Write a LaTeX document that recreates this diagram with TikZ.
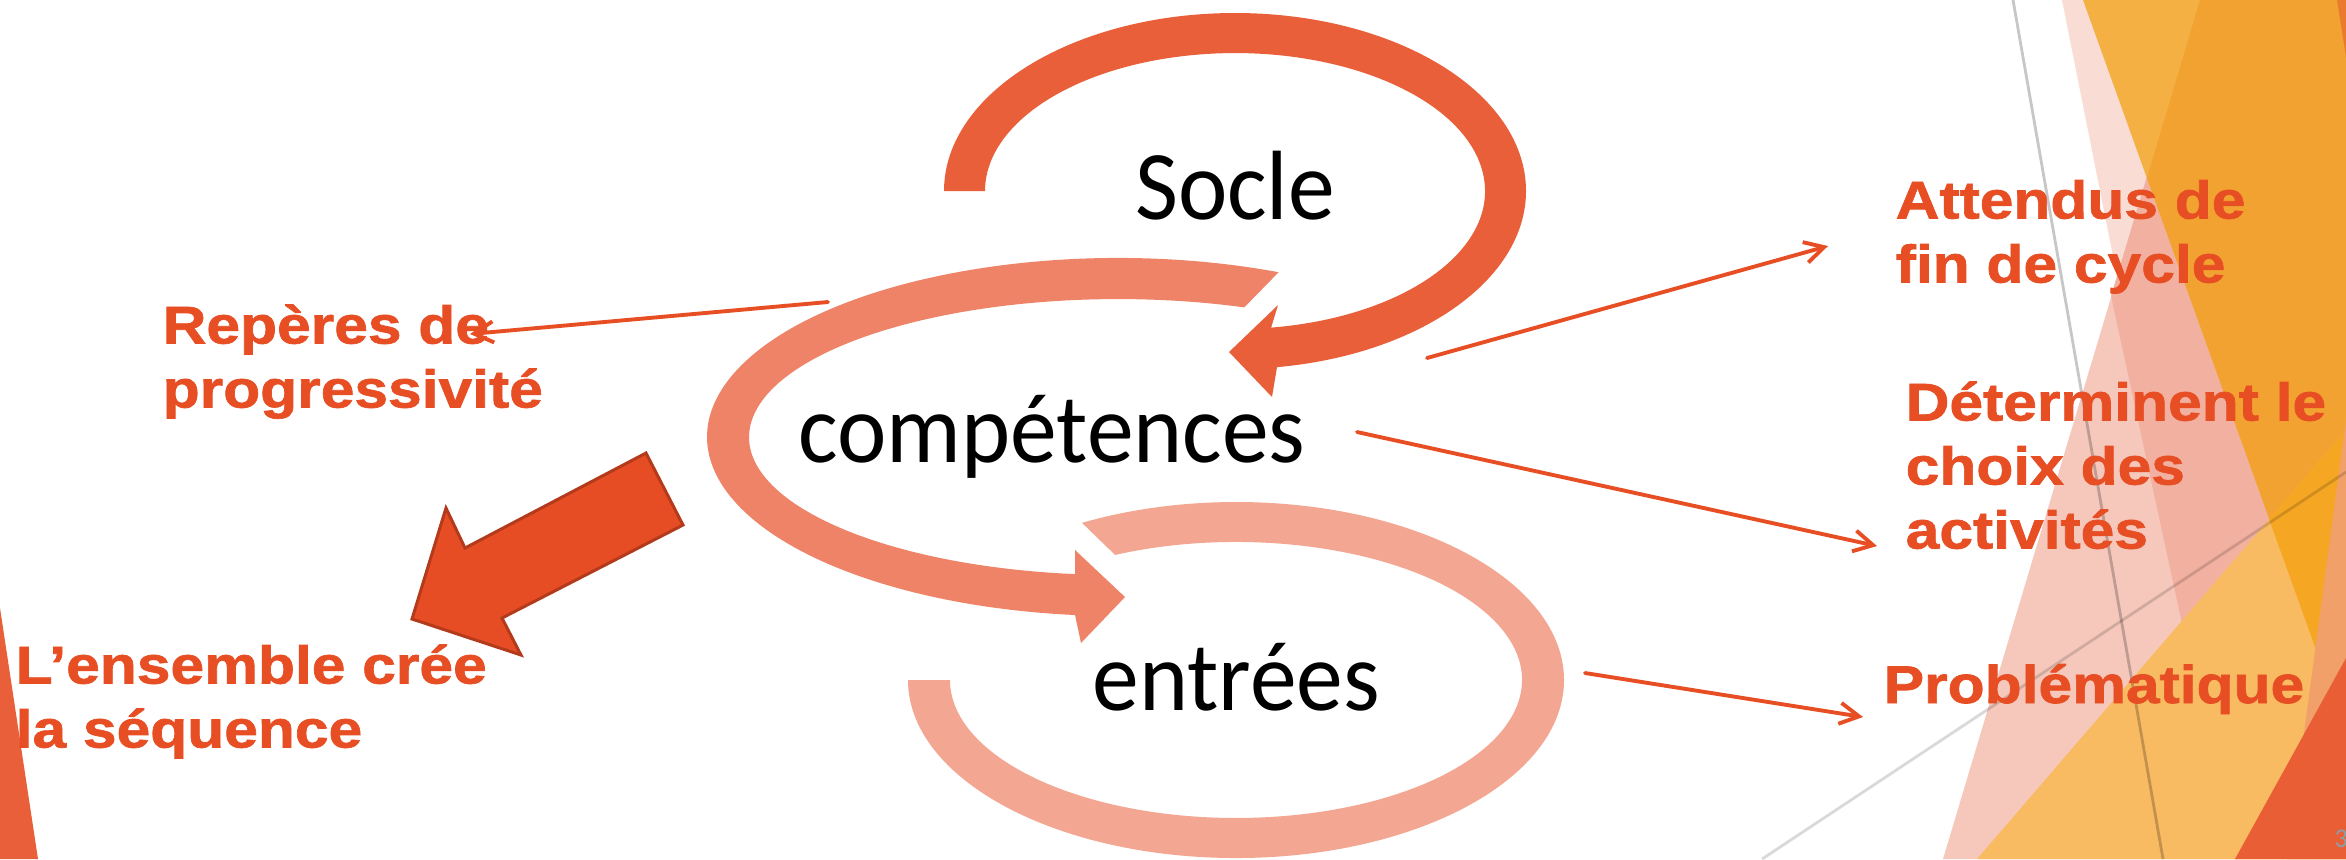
\documentclass[tikz,border=0pt]{standalone}
\usepackage{fontspec}
\usepackage[dvipsnames]{xcolor}
\setmainfont{Carlito}[FakeStretch=0.95]
\newfontfamily\labelfont{Liberation Sans}[FakeStretch=1.14,FakeBold=1.3]
\usetikzlibrary{arrows.meta,positioning}

\definecolor{labelred}{HTML}{E84E24}
\definecolor{socleC}{HTML}{E95F3A}
\definecolor{compC}{HTML}{EE8368}
\definecolor{entC}{HTML}{F3A692}
\definecolor{bigC}{HTML}{E64D24}
\definecolor{bigE}{HTML}{B33A1A}
\definecolor{pinkL}{HTML}{F9DCD4}
\definecolor{pinkP}{HTML}{F6C8BC}
\definecolor{pinkLP}{HTML}{F2B1A0}
\definecolor{orA}{HTML}{F4B043}
\definecolor{orAP}{HTML}{F2A230}
\definecolor{orO}{HTML}{F9BB62}
\definecolor{orOA}{HTML}{F5A623}
\definecolor{salS}{HTML}{F1A06A}
\definecolor{redR}{HTML}{E95E34}
\definecolor{corC}{HTML}{EA7A2E}
\definecolor{numC}{HTML}{8E9CA6}

\begin{document}
\begin{tikzpicture}[x=0.01cm,y=-0.01cm,
        bigword/.style={inner sep=0,anchor=base,font=\fontsize{28}{33}\selectfont},
        sidelabel/.style={inner sep=0,anchor=north west,align=left,text=labelred,
            font=\labelfont\bfseries\fontsize{15.1}{18.2}\selectfont},
        thinarrow/.style={draw=labelred,line width=1.1pt,line cap=round,
            -{Straight Barb[length=5.5pt,width=6pt]}}]

            \useasboundingbox (0,0) rectangle (2346,859);
            \fill[white] (0,0) rectangle (2346,859);

            % facettes du theme
            \fill[pinkL] (2062,0) -- (2346,0) -- (2346,859) -- (2233,859) -- cycle;
            \fill[pinkP] (2200,0) -- (2346,0) -- (2346,859) -- (1943,859) -- cycle;
            \fill[pinkLP] (2200,0) -- (2346,0) -- (2346,859) -- (2233,859) -- (2111,296) -- cycle;
            \fill[orA] (2083,0) -- (2346,0) -- (2346,733) -- cycle;
            \fill[orAP] (2200,0) -- (2346,0) -- (2346,733) -- (2147,178) -- cycle;
            \fill[orO] (1977,859) -- (2346,430) -- (2346,859) -- cycle;
            \fill[orOA] (2269,519) -- (2346,430) -- (2346,733) -- cycle;
            \fill[salS] (2346,420) -- (2346,859) -- (2287,859) -- cycle;
            \fill[redR] (2235,859) -- (2346,658) -- (2346,859) -- cycle;
            \fill[corC] (2337,0) -- (2346,0) -- (2346,57) -- cycle;
            \fill[socleC] (0,608) -- (38,859) -- (0,859) -- cycle;
            \draw[black,opacity=0.22,line width=0.8pt] (2013,0) -- (2163,859);
            \draw[black,opacity=0.15,line width=0.8pt] (1762,859) -- (2346,472);

            % fleches circulaires
            \fill[socleC] (944,191)
                arc[start angle=180,end angle=441.7,x radius=291,y radius=178]
                -- (1272,397) -- (1229,352) -- (1278,305) -- (1271.1,327.6)
                arc[start angle=441.7,end angle=180,x radius=250,y radius=138] -- cycle;
            \fill[compC] (1278.6,272.2)
                arc[start angle=-67,end angle=-264,x radius=411,y radius=179]
                -- (1081,643) -- (1125,597) -- (1075,550) -- (1075,574.1)
                arc[start angle=-263.3,end angle=-70,x radius=369,y radius=138] -- cycle;
            \fill[entC] (908,680)
                arc[start angle=180,end angle=-118,x radius=328,y radius=178]
                -- (1115.1,554.9)
                arc[start angle=-115,end angle=180,x radius=286,y radius=138] -- cycle;

            \filldraw[fill=bigC,draw=bigE,line width=0.85pt]
                (646,453) -- (683,525) -- (502,618) -- (521,655) -- (412,619) -- (446,508) -- (465,548) -- cycle;

            \node[bigword] (socle) at (1235,219) {Socle};
            \node[bigword] (comp) at (1052,462) {compétences};
            \node[bigword] (entrees) at (1236,710) {entrées};

            \node[sidelabel] (reperes) at (162,298) {\strut Repères de\\progressivité};
            \node[sidelabel] (ensemble) at (15,638) {\strut L’ensemble crée\\la séquence};
            \node[sidelabel] (attendus) at (1895,173) {\strut Attendus de\\fin de cycle};
            \node[sidelabel] (determinent) at (1905,375) {\strut Déterminent le\\choix des\\activités};
            \node[sidelabel,anchor=base west] (problematique) at (1883,703) {Problématique};
            \node[inner sep=0,anchor=base west,text=numC,font=\fontsize{7.7}{9}\selectfont] (num) at (2334,847) {3};

            \coordinate (rep a) at (828,302);
            \coordinate (rep b) at (470,334);
            \coordinate (att a) at (1427,358);
            \coordinate (att b) at (1828,246);
            \coordinate (det a) at (1357,432);
            \coordinate (det b) at (1877,546);
            \coordinate (pb a) at (1585,673);
            \coordinate (pb b) at (1863,717);

            \draw[thinarrow] (rep a) -- (rep b);
            \draw[thinarrow] (att a) -- (att b);
            \draw[thinarrow] (det a) -- (det b);
            \draw[thinarrow] (pb a) -- (pb b);

\end{tikzpicture}
\end{document}
